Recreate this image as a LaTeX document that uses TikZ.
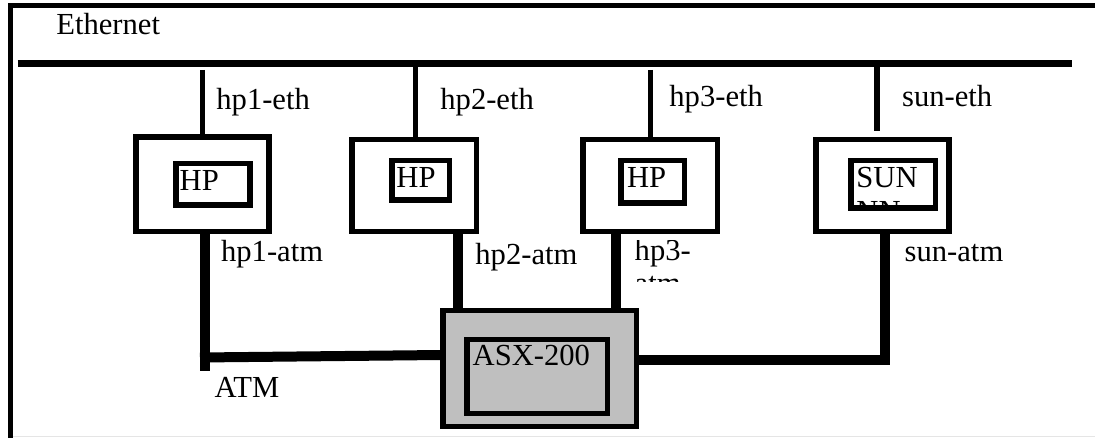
\documentclass[tikz,border=0pt]{standalone}
\usepackage{fontspec}
\setmainfont{Liberation Serif}
\definecolor{switchgray}{rgb}{0.75,0.75,0.75}

\begin{document}
\begin{tikzpicture}[x=0.5pt,y=-0.5pt,
	every node/.style={inner sep=0pt,font=\fontsize{15.3}{16.5}\selectfont},
	lbl/.style={anchor=base west},
	hostbox/.style={draw,line width=2.75pt},
	atmline/.style={line width=5pt}]
	\useasboundingbox (0,0) rectangle (1095,438);
	% frame
	\draw[line width=2.25pt] (10.5,438)--(10.5,5.5)--(1095,5.5);
	\draw[gray!20,line width=0.5pt] (13,436.7)--(1095,436.7);
	% ethernet bus
	\node[lbl] (ethname) at (56,35) {Ethernet};
	\coordinate (ethW) at (17.5,63.5);
	\coordinate (ethE) at (1071.7,63.5);
	\draw[line width=3.3pt] (ethW)--(ethE);
	% hosts
	\node[hostbox,minimum width=66.5pt,minimum height=47.4pt] (hp1) at (202.5,184.2) {};
	\node[hostbox,minimum width=62.25pt,minimum height=46.05pt] (hp2) at (414.3,185.5) {};
	\node[hostbox,minimum width=67.25pt,minimum height=46.05pt] (hp3) at (650,185.5) {};
	\node[hostbox,minimum width=66.45pt,minimum height=46.05pt] (sun) at (882.5,185.5) {};
	\node[hostbox,minimum width=36.95pt,minimum height=20.75pt] (hp1in) at (213,184.2) {};
	\node[hostbox,minimum width=28.75pt,minimum height=19.75pt] (hp2in) at (420.8,180.2) {};
	\node[hostbox,minimum width=31.75pt,minimum height=21.25pt] (hp3in) at (652.8,181.7) {};
	\node[hostbox,minimum width=42.25pt,minimum height=23.75pt] (sunin) at (893.3,184.2) {};
	\node[lbl] (hp1name) at (179.3,191) {HP};
	\node[lbl] (hp2name) at (396,187.7) {HP};
	\node[lbl] (hp3name) at (626.7,187.7) {HP};
	\begin{scope}
		\clip ([shift={(1.4pt,1.4pt)}]sunin.south west) rectangle ([shift={(-1.4pt,-1.4pt)}]sunin.north east);
		\node[lbl] (sunname) at (856,187.7) {SUN};
		\node[lbl] (sunname2) at (856,221) {NN};
	\end{scope}
	% switch
	\node[hostbox,fill=switchgray,minimum width=96.9pt,minimum height=57.9pt] (asx) at (539.65,368.35) {};
	\node[hostbox,minimum width=70.25pt,minimum height=36.9pt] (asxin) at (537,376.35) {};
	\node[lbl] (asxname) at (472.3,365.7) {ASX-200};
	% ethernet taps
	\foreach \h/\x/\t in {hp1/202.7/70,hp2/415.5/67,hp3/650.5/70}{
		\coordinate (\h-tap) at (\x,\t);
		\draw[line width=2.7pt] (\h-tap)--(\h-tap |- \h.north);
	}
	\coordinate (sun-tap) at (877,67);
	\coordinate (sun-end) at (877,130.7);
	\draw[line width=2.7pt] (sun-tap)--(sun-end);
	\foreach \t/\x/\y in {hp1-eth/216/110,hp2-eth/440/110,hp3-eth/669/106.7,sun-eth/901.7/106.7}
		\node[lbl] (\t) at (\x,\y) {\t};
	% atm links
	\coordinate (atmend) at (205,370.7);
	\coordinate (atmjoin) at (200,357.5);
	\draw[atmline] (atmend |- hp1.south)--(atmend);
	\draw[atmline] (atmjoin)--([shift={(2.8pt,6.7pt)}]asx.west);
	\draw[atmline] ([xshift=22pt]hp2.south)--([xshift=22pt]hp2.south |- asx.north);
	\draw[atmline] ([xshift=-17pt]hp3.south)--([xshift=-17pt]hp3.south |- asx.north);
	\coordinate (sunjoin) at (885,360.3);
	\draw[atmline,line join=miter] (sunjoin |- sun.south)--(sunjoin)--(sunjoin -| asx.east);
	\node[lbl] (hp1-atm) at (220.7,261) {hp1-atm};
	\node[lbl] (hp2-atm) at (475,264.3) {hp2-atm};
	\node[lbl] (sun-atm) at (904.3,261) {sun-atm};
	\begin{scope}
		\clip (625,240) rectangle (760,281);
		\node[lbl] (hp3-atm) at (634.3,260) {hp3-};
		\node[lbl] (hp3-atm2) at (634.3,293) {atm};
	\end{scope}
	\node[lbl] (atmname) at (214.3,397.7) {ATM};
\end{tikzpicture}
\end{document}
